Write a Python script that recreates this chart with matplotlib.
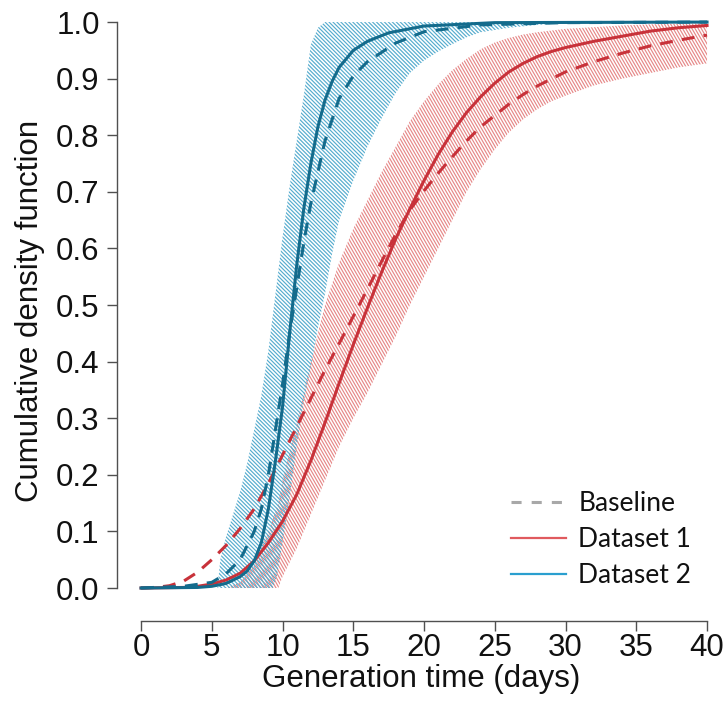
import numpy as np
import matplotlib
matplotlib.use("Agg")
import matplotlib.pyplot as plt
from matplotlib.collections import LineCollection
from matplotlib.transforms import IdentityTransform
from matplotlib.lines import Line2D

# ---------------- data ----------------
# Dataset 2 (teal), solid
d2_x = [0, 4, 5, 6, 7, 7.5, 8, 8.5, 9, 9.5, 10, 10.5, 11, 11.5, 12, 12.5, 13, 13.5, 14, 15, 16, 17.5, 20, 25, 40]
d2_y = [0, 0.001, 0.003, 0.008, 0.02, 0.03, 0.048, 0.08, 0.14, 0.225, 0.32, 0.45, 0.57, 0.67, 0.75, 0.815, 0.862, 0.895, 0.92, 0.95, 0.966, 0.981, 0.993, 0.999, 1.0]
# Baseline for dataset 2 (teal dashed)
b2_x = [0, 3, 5, 6, 7, 8, 8.5, 9, 9.5, 10, 10.5, 11, 11.5, 12, 13, 14, 15, 16, 18, 20, 24, 30, 40]
b2_y = [0, 0.003, 0.01, 0.025, 0.05, 0.1, 0.14, 0.2, 0.28, 0.36, 0.45, 0.53, 0.61, 0.68, 0.79, 0.865, 0.905, 0.93, 0.963, 0.983, 0.995, 0.999, 1.0]
# Dataset 2 envelope
d2_band_x = [0, 5.4, 5.6, 6, 6.5, 7, 7.5, 8, 8.5, 9, 9.3, 9.6, 10, 10.5, 11, 11.5, 12, 12.5, 13, 13.5, 14, 15, 16, 17, 18, 19, 20, 21, 22, 23, 24, 26, 28, 30, 35, 40]
d2_band_hi = [0, 0, 0.05, 0.09, 0.13, 0.17, 0.22, 0.28, 0.34, 0.42, 0.48, 0.54, 0.62, 0.71, 0.79, 0.87, 0.96, 0.99, 1.0, 1.0, 1.0, 1.0, 1.0, 1.0, 1.0, 1.0, 1.0, 1.0, 1.0, 1.0, 1.0, 1.0, 1.0, 1.0, 1.0, 1.0]
d2_band_lo = [0, 0, 0, 0, 0, 0, 0, 0, 0, 0, 0, 0.02, 0.08, 0.16, 0.25, 0.33, 0.39, 0.46, 0.52, 0.59, 0.65, 0.72, 0.78, 0.83, 0.875, 0.91, 0.932, 0.948, 0.961, 0.973, 0.982, 0.99, 0.995, 0.998, 1.0, 1.0]

# Dataset 1 (red), solid
d1_x = [0, 3, 4, 5, 6, 7, 8, 9, 10, 11, 12, 13, 14, 15, 16, 17, 18, 19, 20, 21, 22, 23, 24, 25, 26, 27, 28, 29, 30, 32, 34, 36, 38, 40]
d1_y = [0, 0.001, 0.003, 0.007, 0.014, 0.026, 0.048, 0.08, 0.118, 0.165, 0.225, 0.292, 0.362, 0.43, 0.495, 0.558, 0.617, 0.67, 0.72, 0.766, 0.806, 0.84, 0.868, 0.892, 0.912, 0.927, 0.939, 0.948, 0.955, 0.966, 0.975, 0.984, 0.99, 0.994]
# Baseline for dataset 1 (red dashed)
b1_x = [0, 1, 2, 3, 4, 5, 6, 7, 8, 9, 10, 11, 12, 13, 14, 15, 16, 17, 18, 19, 20, 21, 22, 23, 24, 25, 26, 27, 28, 30, 32, 34, 36, 38, 40]
b1_y = [0, 0.001, 0.004, 0.012, 0.028, 0.05, 0.075, 0.105, 0.14, 0.185, 0.235, 0.285, 0.335, 0.385, 0.432, 0.48, 0.528, 0.577, 0.625, 0.668, 0.702, 0.733, 0.762, 0.79, 0.815, 0.835, 0.855, 0.872, 0.887, 0.912, 0.93, 0.945, 0.958, 0.968, 0.977]
# Dataset 1 envelope
d1_band_x = [0, 6, 7, 8, 9, 9.7, 10, 11, 12, 13, 14, 15, 16, 17, 18, 19, 20, 21, 22, 23, 24, 25, 26, 27, 28, 29, 30, 32, 34, 36, 38, 40]
d1_band_hi = [0, 0, 0.01, 0.04, 0.1, 0.15, 0.19, 0.29, 0.4, 0.5, 0.575, 0.635, 0.685, 0.735, 0.78, 0.825, 0.86, 0.89, 0.915, 0.935, 0.952, 0.964, 0.972, 0.978, 0.982, 0.985, 0.988, 0.991, 0.994, 0.996, 0.997, 0.998]
d1_band_lo = [0, 0, 0, 0, 0, 0, 0.02, 0.07, 0.13, 0.19, 0.25, 0.3, 0.345, 0.395, 0.445, 0.5, 0.55, 0.6, 0.65, 0.7, 0.74, 0.775, 0.805, 0.828, 0.846, 0.86, 0.87, 0.888, 0.9, 0.91, 0.92, 0.927]

x_ticks = [0, 5, 10, 15, 20, 25, 30, 35, 40]
y_ticks = [0.0, 0.1, 0.2, 0.3, 0.4, 0.5, 0.6, 0.7, 0.8, 0.9, 1.0]
legend_labels = ["Baseline", "Dataset 1", "Dataset 2"]

# ---------------- style ----------------
TEAL = "#146b8c"
TEAL_HATCH = "#56acce"
RED = "#c8323a"
RED_HATCH = "#e68888"
AXIS_FONT = "Liberation Sans"

W, H, DPI = 725, 706, 100
fig = plt.figure(figsize=(W / DPI, H / DPI), dpi=DPI)
ax = fig.add_axes([117 / W, (H - 621) / H, (W - 117) / W, 621 / H])
ax.set_xlim(-1.70, 41.27)
ax.set_ylim(-0.0583, 1.039)


def hatch_band(ax, x, lo, hi, color, angle_deg, spacing, lw):
    poly = ax.fill_between(x, lo, hi, facecolor="none", edgecolor="none", linewidth=0)
    fig.canvas.draw()
    x0, y0, x1, y1 = ax.bbox.extents
    cx, cy = (x0 + x1) / 2, (y0 + y1) / 2
    D = np.hypot(x1 - x0, y1 - y0)
    th = np.deg2rad(angle_deg)
    d = np.array([np.cos(th), np.sin(th)])
    n = np.array([-np.sin(th), np.cos(th)])
    segs = []
    for off in np.arange(-D, D, spacing):
        c = np.array([cx, cy]) + off * n
        segs.append([c - D * d, c + D * d])
    lc = LineCollection(segs, colors=color, linewidths=lw, transform=IdentityTransform(), zorder=1)
    ax.add_collection(lc, autolim=False)
    lc.set_clip_path(poly.get_paths()[0], poly.get_transform())
    return lc


hatch_band(ax, d1_band_x, d1_band_lo, d1_band_hi, RED_HATCH, -60, 2.7, 0.85)
hatch_band(ax, d2_band_x, d2_band_lo, d2_band_hi, TEAL_HATCH, -45, 2.8, 0.85)

ax.plot(b1_x, b1_y, color=RED, lw=2.2, dashes=(4.2, 3.0), zorder=3)
ax.plot(d1_x, d1_y, color=RED, lw=2.2, zorder=3)
ax.plot(b2_x, b2_y, color=TEAL, lw=2.2, dashes=(4.2, 3.0), zorder=4)
ax.plot(d2_x, d2_y, color=TEAL, lw=2.2, zorder=4)

ax.set_xlim(-1.70, 41.27)
ax.set_ylim(-0.0583, 1.039)

for s in ["top", "right"]:
    ax.spines[s].set_visible(False)
ax.spines["left"].set_bounds(0, 1)
ax.spines["bottom"].set_bounds(0, 40)
for s in ["left", "bottom"]:
    ax.spines[s].set_color("#505050")
    ax.spines[s].set_linewidth(1.0)

ax.set_xticks(x_ticks)
ax.set_xticklabels([str(v) for v in x_ticks])
ax.set_yticks(y_ticks)
ax.set_yticklabels([f"{v:.1f}" for v in y_ticks])
ax.tick_params(axis="both", direction="out", length=7.5, width=1.0, color="#505050",
               labelsize=22.5, pad=5)
ax.tick_params(axis="x", pad=1)
for lab in ax.get_xticklabels() + ax.get_yticklabels():
    lab.set_fontfamily(AXIS_FONT)
    lab.set_color("#111111")

ax.set_xlabel("Generation time (days)", fontsize=22.5, family=AXIS_FONT, color="#111111", labelpad=1)
ax.set_ylabel("Cumulative density function", fontsize=22.5, family=AXIS_FONT, color="#111111")
ax.yaxis.set_label_coords(-0.118, 0.50)

handles = [
    Line2D([], [], color="#a8a8a8", lw=2.2, dashes=(3.3, 3.3)),
    Line2D([], [], color="#e05a5e", lw=1.6),
    Line2D([], [], color="#2a9fcf", lw=1.6),
]
leg = fig.legend(handles, legend_labels, loc="upper left", bbox_to_anchor=(511 / W, (H - 491) / H),
                 frameon=False, handlelength=2.1, handletextpad=0.45, labelspacing=0.42,
                 borderpad=0, borderaxespad=0, prop={"family": "Lato", "size": 19})
for t in leg.get_texts():
    t.set_color("#111111")

fig.savefig("out.png", dpi=DPI)
